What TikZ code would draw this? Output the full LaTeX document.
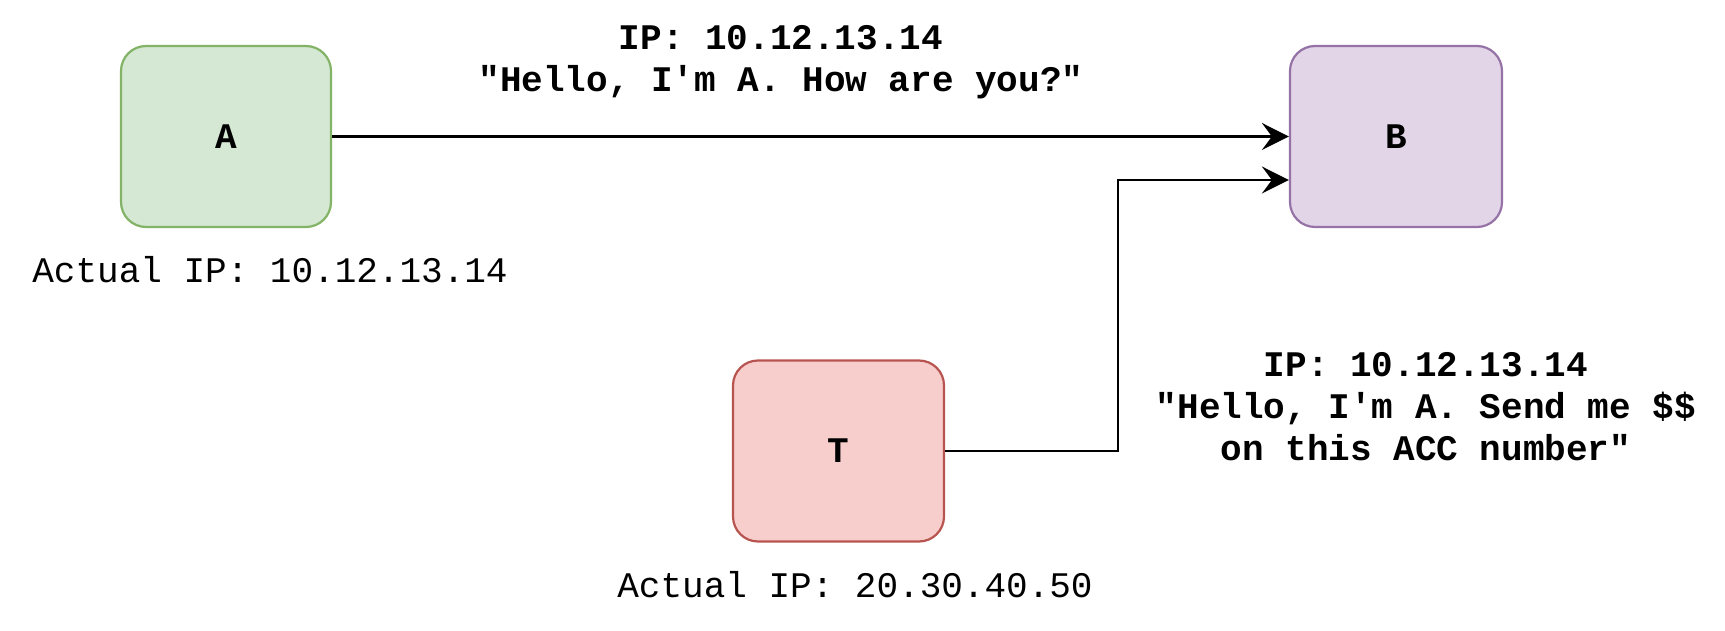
\documentclass[tikz,border=0pt]{standalone}
\usepackage{fontspec}
\setmonofont{Liberation Mono}
\usetikzlibrary{arrows.meta}
\definecolor{gfill}{HTML}{D5E8D4}
\definecolor{gdraw}{HTML}{82B366}
\definecolor{pfill}{HTML}{E1D5E7}
\definecolor{pdraw}{HTML}{9673A6}
\definecolor{rfill}{HTML}{F8CECC}
\definecolor{rdraw}{HTML}{B85450}
\tikzset{
  hostbox/.style={rectangle, rounded corners=25pt, line width=2.2pt, minimum height=181pt, inner sep=0pt,
    font=\ttfamily\bfseries\fontsize{36}{42}\selectfont},
  msg/.style={align=center, inner sep=0pt, font=\ttfamily\bfseries\fontsize{36}{42}\selectfont},
  plain/.style={inner sep=0pt, font=\ttfamily\fontsize{36}{42}\selectfont},
  conn/.style={line width=2.5pt, -{Stealth[length=27pt,width=27pt,inset=10pt]}}
}
\begin{document}
\begin{tikzpicture}[x=1pt,y=1pt]
\useasboundingbox (0,0) rectangle (1725,630);
\node[hostbox, fill=gfill, draw=gdraw, minimum width=210pt] (A) at (226,493.5) {A};
\node[hostbox, fill=pfill, draw=pdraw, minimum width=212pt] (B) at (1396,493.5) {B};
\node[hostbox, fill=rfill, draw=rdraw, minimum width=211pt] (T) at (838.5,179) {T};
\node[msg] (m1) at (781,568) {IP: 10.12.13.14\\"Hello, I'm A. How are you?"};
\node[msg] (m2) at (1426,223) {IP: 10.12.13.14\\"Hello, I'm A. Send me \$\$\\on this ACC number"};
\node[plain] (ipa) at (270,360) {Actual IP: 10.12.13.14};
\node[plain] (ipt) at (855,45) {Actual IP: 20.30.40.50};
\coordinate (bend) at (1118,450);
\draw[conn] (A.east) -- (B.west);
\draw[conn] (T.east) -| (bend) -- (B.west |- bend);
\end{tikzpicture}
\end{document}
